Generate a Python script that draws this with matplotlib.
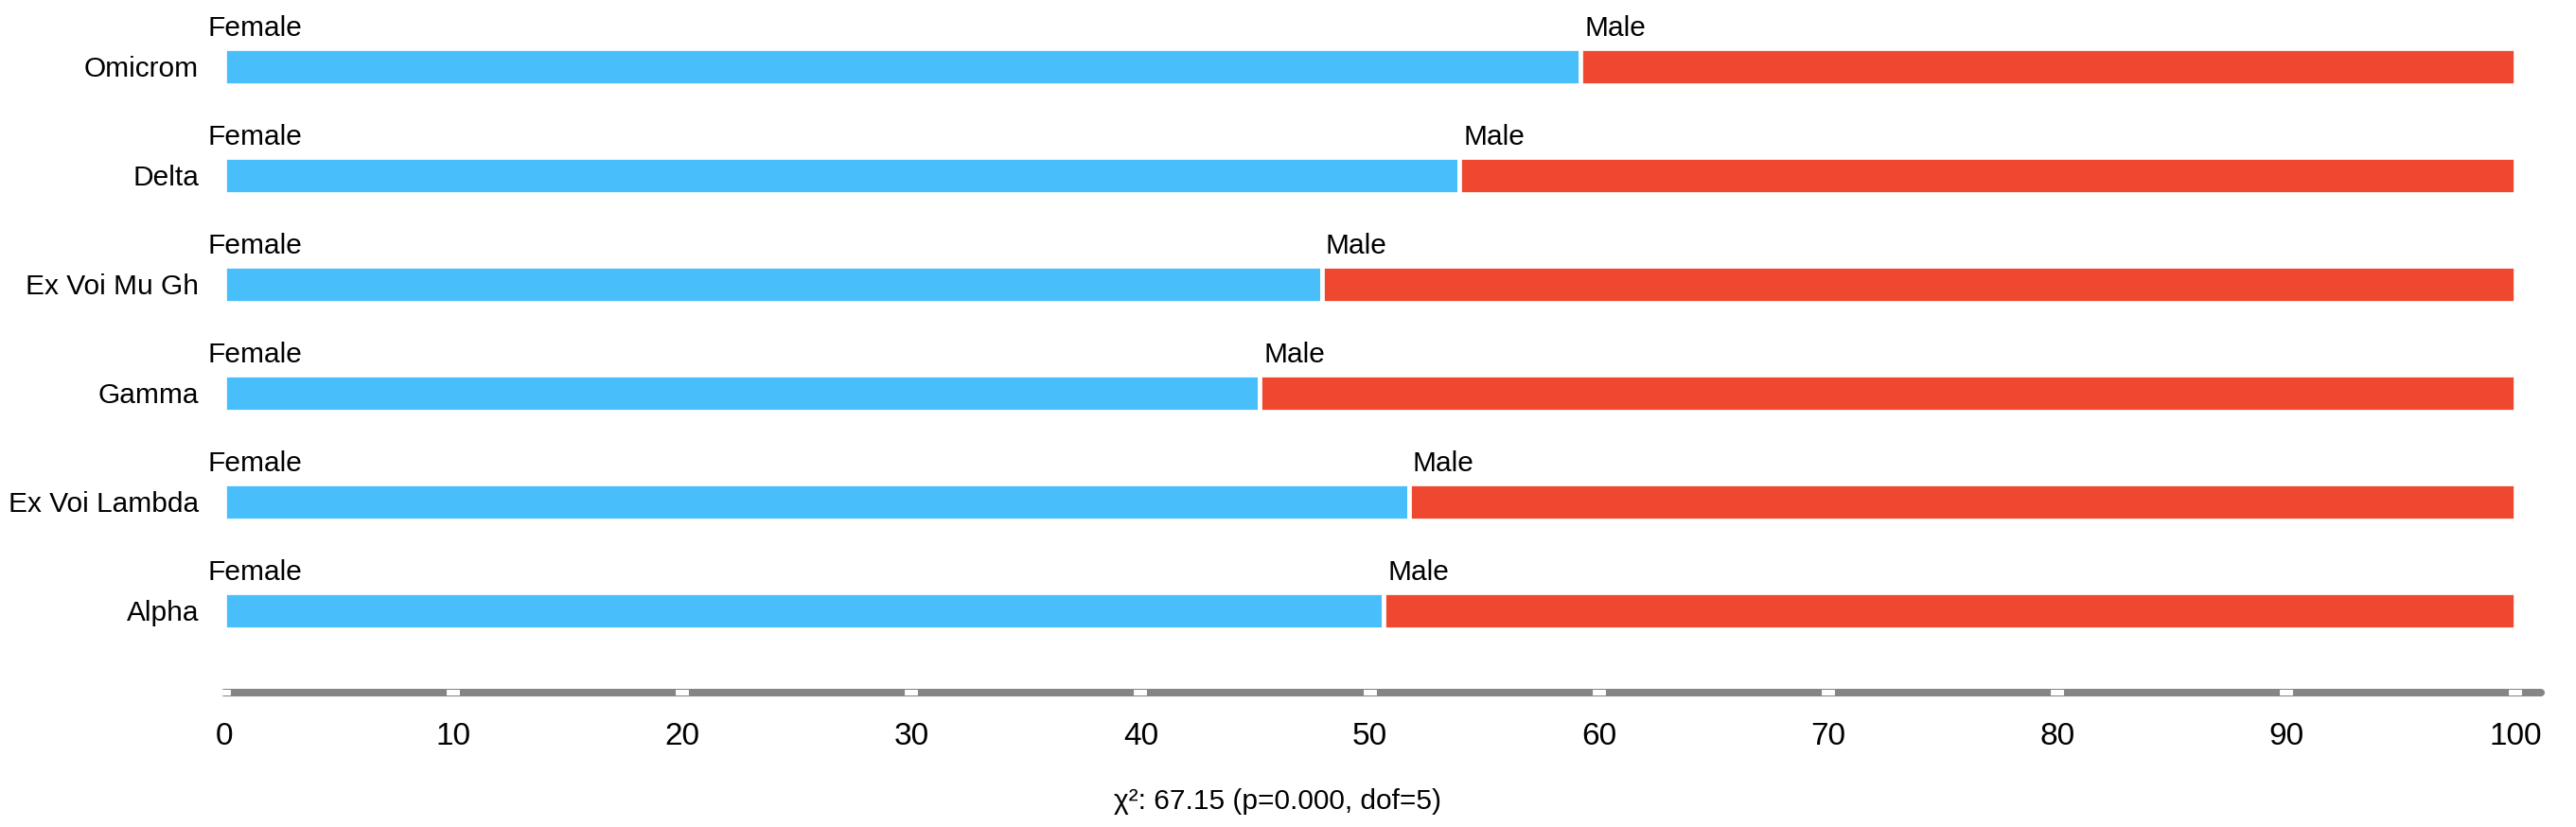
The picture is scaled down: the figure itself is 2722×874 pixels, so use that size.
import matplotlib
matplotlib.use("Agg")
import matplotlib.pyplot as plt

# ---- data (top to bottom) ----
categories = ["Omicrom", "Delta", "Ex Voi Mu Gh", "Gamma", "Ex Voi Lambda", "Alpha"]
female_pct = [59.2, 53.9, 47.9, 45.2, 51.7, 50.6]
male_pct = [100 - f for f in female_pct]
series_names = ["Female", "Male"]
x_ticks = [0, 10, 20, 30, 40, 50, 60, 70, 80, 90, 100]
stat_text = "χ²: 67.15 (p=0.000, dof=5)"

BLUE = "#48BFFA"
RED = "#EE4830"
GRAY = "#858585"

plt.rcParams['font.family'] = ['Liberation Sans', 'DejaVu Sans']

W, H = 2722, 874
fig = plt.figure(figsize=(W / 100, H / 100), dpi=100)
ax = fig.add_axes([237 / W, 124 / H, 2464.6 / W, 750 / H])

n = len(categories)
ypos = [n - 1 - i for i in range(n)]
bar_h = 0.345

ax.barh(ypos, female_pct, height=bar_h, color=BLUE, edgecolor="white", linewidth=3.4)
ax.barh(ypos, male_pct, left=female_pct, height=bar_h, color=RED, edgecolor="white", linewidth=3.4)

for y, f in zip(ypos, female_pct):
    ax.text(-0.74, y + 0.283, series_names[0], fontsize=21.5, ha="left", va="baseline")
    ax.text(f + 0.17, y + 0.283, series_names[1], fontsize=21.5, ha="left", va="baseline")

ax.set_xlim(0, 101.8)
ax.set_ylim(-0.9087, 5.613)

ax.set_yticks(ypos)
ax.set_yticklabels(categories, fontsize=21.5)
ax.tick_params(axis="y", length=0, pad=19.4)

for s in ["top", "right", "left"]:
    ax.spines[s].set_visible(False)
sp = ax.spines["bottom"]
sp.set_position(("data", -0.75))
sp.set_bounds(0, 101.1)
sp.set_linewidth(5.8)
sp.set_color(GRAY)
sp.set_capstyle("round")
sp.set_zorder(1)

ax.set_xticks(x_ticks)
ax.set_xticklabels([str(t) for t in x_ticks], fontsize=24)
ax.tick_params(axis="x", direction="inout", length=4.3, width=10, color="white", pad=20)
ax.xaxis.set_zorder(3)

fig.text(1350 / W, (H - 855) / H, stat_text, fontsize=21.5, ha="center", va="baseline")

fig.savefig("out.png", dpi=100, facecolor="white")
